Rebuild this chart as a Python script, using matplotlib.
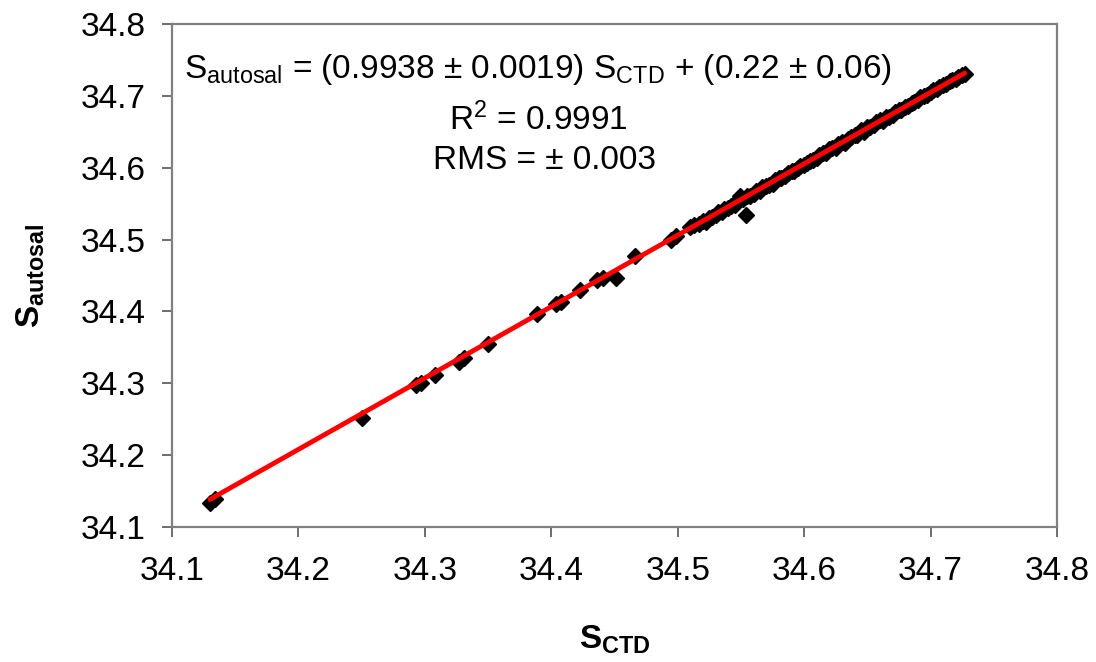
import matplotlib
matplotlib.use("Agg")
import matplotlib.pyplot as plt
import numpy as np

plt.rcParams['font.family'] = ['Liberation Sans', 'DejaVu Sans']
plt.rcParams['mathtext.fontset'] = 'custom'
plt.rcParams['mathtext.rm'] = 'Liberation Sans'
plt.rcParams['mathtext.it'] = 'Liberation Sans'
plt.rcParams['mathtext.bf'] = 'Liberation Sans:bold'

# CTD salinity vs. bench (autosal) salinity
s_ctd = [
    34.130, 34.134, 34.250, 34.293, 34.297, 34.308, 34.327, 34.331, 34.350,
    34.389, 34.404, 34.408, 34.423, 34.436, 34.441, 34.451, 34.466, 34.495,
    34.499,
    34.510, 34.513, 34.517, 34.520, 34.522, 34.525, 34.527, 34.530, 34.532,
    34.535, 34.537, 34.540, 34.542, 34.545, 34.547, 34.549, 34.552, 34.554,
    34.555, 34.557, 34.560, 34.562, 34.565, 34.567, 34.570, 34.572, 34.575,
    34.577, 34.580, 34.582, 34.585, 34.587, 34.590, 34.592, 34.595, 34.597,
    34.600, 34.602, 34.605, 34.607, 34.610, 34.612, 34.615, 34.617, 34.620,
    34.622, 34.625, 34.627, 34.630, 34.632, 34.635, 34.637, 34.640, 34.642,
    34.645, 34.647, 34.650, 34.652, 34.655, 34.657, 34.660, 34.662, 34.665,
    34.667, 34.670, 34.672, 34.675, 34.677, 34.680, 34.682, 34.685, 34.687,
    34.690, 34.692, 34.695, 34.697, 34.700, 34.702, 34.705, 34.707, 34.710,
    34.712, 34.715, 34.717, 34.720, 34.722, 34.725, 34.727,
]
s_autosal = [
    34.133, 34.139, 34.252, 34.297, 34.300, 34.312, 34.330, 34.335, 34.354,
    34.396, 34.411, 34.413, 34.430, 34.444, 34.446, 34.447, 34.477, 34.500,
    34.505,
    34.518, 34.520, 34.521, 34.526, 34.525, 34.530, 34.531, 34.534, 34.538,
    34.538, 34.543, 34.544, 34.547, 34.548, 34.553, 34.560, 34.556, 34.534,
    34.560, 34.561, 34.563, 34.568, 34.567, 34.573, 34.574, 34.576, 34.578,
    34.583, 34.585, 34.586, 34.589, 34.592, 34.596, 34.595, 34.600, 34.603,
    34.604, 34.606, 34.610, 34.611, 34.613, 34.618, 34.620, 34.621, 34.626,
    34.627, 34.628, 34.633, 34.636, 34.635, 34.640, 34.643, 34.645, 34.646,
    34.652, 34.650, 34.656, 34.657, 34.659, 34.663, 34.666, 34.665, 34.671,
    34.671, 34.674, 34.677, 34.681, 34.680, 34.685, 34.686, 34.690, 34.692,
    34.694, 34.698, 34.700, 34.701, 34.705, 34.708, 34.709, 34.712, 34.715,
    34.716, 34.720, 34.722, 34.724, 34.726, 34.729, 34.731,
]

# regression results
slope, slope_err = 0.9938, 0.0019
intercept, intercept_err = 0.22, 0.06
r_squared = 0.9991
rms = 0.003

ticks = [34.1, 34.2, 34.3, 34.4, 34.5, 34.6, 34.7, 34.8]
tick_labels = ["34.1", "34.2", "34.3", "34.4", "34.5", "34.6", "34.7", "34.8"]

fig = plt.figure(figsize=(10.96, 6.62), dpi=100)
ax = fig.add_axes([172 / 1096, 1 - 527 / 662, (1057 - 172) / 1096, (527 - 24) / 662])

ax.plot(s_ctd, s_autosal, linestyle='none', marker='D', markersize=8.5,
        markerfacecolor='black', markeredgecolor='black', zorder=2)

fit_x = np.array([min(s_ctd), max(s_ctd)])
ax.plot(fit_x, slope * fit_x + intercept, color='#ff0000', linewidth=3.5,
        solid_capstyle='round', zorder=3)

ax.set_xlim(34.1, 34.8)
ax.set_ylim(34.1, 34.8)
ax.set_xticks(ticks)
ax.set_xticklabels(tick_labels)
ax.set_yticks(ticks)
ax.set_yticklabels(tick_labels)

for side in ['left', 'bottom', 'right', 'top']:
    ax.spines[side].set_color('#808080')
    ax.spines[side].set_linewidth(1.6)
ax.tick_params(axis='both', direction='out', length=7, width=1.2, color='#555555',
               labelsize=24)
ax.tick_params(axis='x', pad=14)
ax.tick_params(axis='y', pad=12)

ax.set_xlabel(r'$\mathbf{S_{CTD}}$', fontsize=24, labelpad=26)
ax.set_ylabel(r'$\mathbf{S_{autosal}}$', fontsize=24, labelpad=24)

eq = (r'S$_{\mathrm{autosal}}$ = (%.4f ± %.4f) S$_{\mathrm{CTD}}$ + (%.2f ± %.2f)'
      % (slope, slope_err, intercept, intercept_err))
ax.text(0.414, 0.91, eq, transform=ax.transAxes, ha='center', va='center', fontsize=24)
ax.text(0.414, 0.81, r'R$^{2}$ = %.4f' % r_squared, transform=ax.transAxes,
        ha='center', va='center', fontsize=24)
ax.text(0.421, 0.728, 'RMS = ± %.3f' % rms, transform=ax.transAxes,
        ha='center', va='center', fontsize=24)

fig.savefig('out.png', dpi=100, facecolor='white')
